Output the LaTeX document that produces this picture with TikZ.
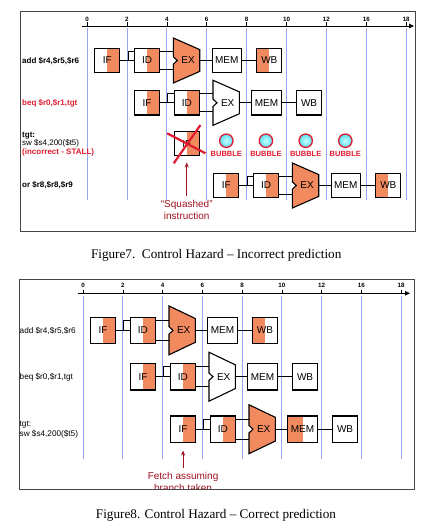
\documentclass[tikz,border=0pt]{standalone}
\usepackage{fontspec}
\setmainfont{Liberation Serif}
\setsansfont{Liberation Sans}
\usetikzlibrary{arrows.meta,positioning}

\definecolor{hazorange}{RGB}{242,138,96}
\definecolor{gridblue}{RGB}{150,165,240}
\definecolor{hazred}{RGB}{226,28,48}
\definecolor{darkred}{RGB}{160,18,32}
\definecolor{framegray}{RGB}{70,70,70}

\tikzset{
  stagetext/.style={inner sep=0pt, font=\sffamily\fontsize{10}{12}\selectfont},
  stagebox/.style={stagetext, draw, fill=white, line width=1.1pt,
    minimum width=25, minimum height=24.4, anchor=west},
  membox/.style={stagebox, minimum width=29.5},
  alubox/.style={minimum width=26, inner sep=0pt, anchor=west},
  stageline/.style={line width=1.1pt},
  halfright/.style={path picture={\fill[hazorange] (path picture bounding box.south)
    rectangle (path picture bounding box.north east);}},
  halfleft/.style={path picture={\fill[hazorange] (path picture bounding box.south west)
    rectangle (path picture bounding box.north);}},
  nohalf/.style={},
  link/.style={line width=0.8pt},
  frame/.style={draw=framegray, line width=0.9pt},
  timeaxis/.style={line width=0.9pt, -{Triangle[length=5pt,width=4.5pt]}},
  gridline/.style={gridblue, line width=0.8pt},
  ticklabel/.style={inner sep=0pt, font=\sffamily\bfseries\fontsize{6.2}{7}\selectfont},
  rowlabel/.style={anchor=west, inner sep=0pt, align=left,
    font=\sffamily\bfseries\fontsize{8}{8.7}\selectfont},
  rowlabel8/.style={rowlabel, font=\sffamily\fontsize{8.2}{9.5}\selectfont},
  bubble/.style={circle, draw=hazred, line width=1.3pt, minimum size=13.4, inner sep=0pt,
    inner color={rgb,255:red,205;green,255;blue,255}, outer color={rgb,255:red,85;green,222;blue,240}},
  bubbletext/.style={inner sep=0pt, text=hazred, font=\sffamily\bfseries\fontsize{7.5}{9}\selectfont},
  squash/.style={hazred, line width=2.2pt},
  notetext/.style={align=center, inner sep=4pt, text=darkred,
    font=\sffamily\fontsize{10}{11.7}\selectfont},
  notearrow/.style={darkred, line width=0.9pt, -{Stealth[length=5pt,width=4pt]}},
  caption/.style={inner sep=0pt, font=\rmfamily\fontsize{13.2}{15}\selectfont},
}

% one instruction: #1 name, #2 left of IF, #3 centre y, #4 box height,
% #5 EX fill, #6 MEM half, #7 WB half
\newcommand{\pipeline}[7]{%
  \node[stagebox, halfright, minimum height=#4] (#1-if) at (#2,#3) {IF};
  \node[stagebox, halfright, minimum height=#4] (#1-id) at (#2+39.7,#3) {ID};
  \node[alubox, minimum height=1.83*#4] (#1-ex) at (#2+79,#3) {};
  \filldraw[stageline, fill=#5] (#1-ex.north west) -- ([yshift=-0.476*#4]#1-ex.north east)
    -- ([yshift=0.476*#4]#1-ex.south east) -- (#1-ex.south west)
    -- ([yshift=-3.7]#1-ex.west) -- ([xshift=4]#1-ex.west) -- ([yshift=3.7]#1-ex.west) -- cycle;
  \node[stagetext] (#1-exl) at ([xshift=1.5]#1-ex.center) {EX};
  \node[membox, #6, minimum height=#4] (#1-mem) at (#2+117.2,#3) {MEM};
  \node[stagebox, #7, minimum height=#4] (#1-wb) at (#2+162,#3) {WB};
  % IF -> ID with the latch bracket
  \coordinate (#1-j) at ([xshift=7.6]#1-if.east);
  \coordinate (#1-up) at ([yshift=0.37*#4]#1-ex.west);
  \coordinate (#1-dn) at ([yshift=-0.37*#4]#1-ex.west);
  \draw[link] (#1-if) -- (#1-id);
  \draw[link] (#1-j) |- (#1-id.west |- #1-up);
  % ID -> EX, two operands
  \draw[link] (#1-id.east |- #1-up) -- (#1-up);
  \draw[link] (#1-id.east |- #1-dn) -- (#1-dn);
  \draw[link] (#1-ex) -- (#1-mem);
  \draw[link] (#1-mem) -- (#1-wb);
}

\begin{document}
\begin{tikzpicture}[x=1pt,y=-1pt]
  \useasboundingbox[fill=white] (0,0) rectangle (429,527);

  %% Figure 7: incorrect prediction
  \draw[frame] (20,11) rectangle (415,231);
  \draw[timeaxis] (82,26) -- (414,26);
  \foreach \t [count=\k from 0] in {0,2,4,6,8,10,12,16,18} {
    \node[ticklabel] (t7-\k) at (87+39.9*\k,19) {\t};
    \draw[line width=0.5pt] (87+39.9*\k,22.5) -- (87+39.9*\k,26);
    \draw[gridline] (87+39.9*\k,28.5) -- (87+39.9*\k,200);
  }
  \node[rowlabel] (a7-txt) at (22,60.7) {add \$r4,\$r5,\$r6};
  \node[rowlabel, text=hazred] (b7-txt) at (22,103.3) {beq \$r0,\$r1,tgt};
  \node[rowlabel] (c7-txt) at (22,144) {tgt:\\{\mdseries sw \$s4,200(\$t5)}\\{\color{hazred}(incorrect - STALL)}};
  \node[rowlabel] (d7-txt) at (22,185) {or \$r8,\$r8,\$r9};

  \pipeline{a7}{94.3}{60.5}{24.4}{hazorange}{nohalf}{halfleft}
  \pipeline{b7}{134}{102.8}{24.4}{white}{nohalf}{nohalf}
  \pipeline{d7}{213.3}{185.5}{24.4}{hazorange}{nohalf}{halfleft}

  % squashed fetch
  \node[stagebox, halfright] (sq-if) at (173.7,143.7) {IF};
  \draw[squash] ([shift={(-19.6,-10.4)}]sq-if.center) -- ([shift={(18.7,9.6)}]sq-if.center);
  \draw[squash] ([shift={(13.7,-18.7)}]sq-if.center) -- ([shift={(-13,19.6)}]sq-if.center);
  \node[notetext, below=40pt of sq-if] (sq-note) {“Squashed”\\instruction};
  \draw[notearrow] (sq-note) -- ([yshift=-6]sq-if.south);

  \foreach \x [count=\i] in {226.3,265.9,305.7,345.3} {
    \node[bubble] (bub\i) at (\x,140.7) {};
    \node[bubbletext] (bub\i-txt) at (\x,153.7) {BUBBLE};
  }

  \node[caption] (cap7) at (216.2,255.5) {Figure7.\ \ Control Hazard -- Incorrect prediction};

  %% Figure 8: correct prediction
  \draw[timeaxis] (78.3,293.3) -- (410,293.3);
  \foreach \t [count=\k from 0] in {0,2,4,6,8,10,12,16,18} {
    \node[ticklabel] (t8-\k) at (83+39.75*\k,285.5) {\t};
    \draw[line width=0.5pt] (83+39.75*\k,289.5) -- (83+39.75*\k,293.3);
    \draw[gridline] (83+39.75*\k,296) -- (83+39.75*\k,459);
  }
  \node[rowlabel8] (a8-txt) at (19.5,330.7) {add \$r4,\$r5,\$r6};
  \node[rowlabel8] (b8-txt) at (19.5,376.9) {beq \$r0,\$r1,tgt};
  \node[rowlabel8] (c8-txt) at (19.5,429.5) {tgt:\\sw \$s4,200(\$t5)};

  \pipeline{a8}{90}{330.4}{26.5}{hazorange}{nohalf}{halfleft}
  \pipeline{b8}{130}{376.7}{26.5}{white}{nohalf}{nohalf}
  \pipeline{c8}{170}{429.2}{26.5}{hazorange}{halfleft}{nohalf}

  \begin{scope}
    \clip (19,279) rectangle (414.3,489.3);
    \node[notetext, below=25pt of c8-if] (c8-note) {Fetch assuming\\branch taken};
  \end{scope}
  \draw[notearrow] (c8-note) -- ([yshift=-7.5]c8-if.south);
  \draw[frame] (19,279) rectangle (414.3,489.3);

  \node[caption] (cap8) at (216,515.6) {Figure8. Control Hazard -- Correct prediction};
\end{tikzpicture}
\end{document}
